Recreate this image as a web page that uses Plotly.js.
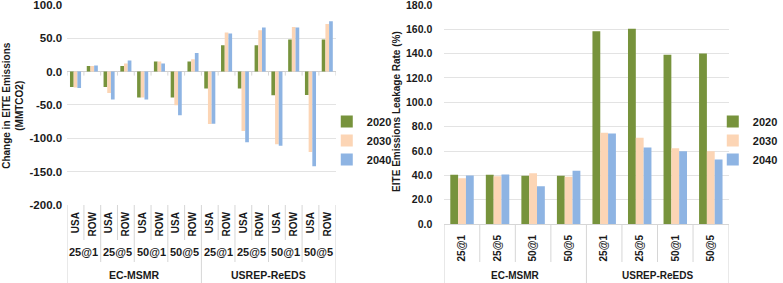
<!DOCTYPE html>
<html>
<head>
<meta charset="utf-8">
<script src="https://cdn.plot.ly/plotly-3.0.1.min.js"></script>
<style>html,body{margin:0;padding:0;background:#fff;}#chart{width:783px;height:283px;}</style>
</head>
<body>
<div id="chart"></div>
<script>
// ---- data ----
const models = ['EC-MSMR', 'USREP-ReEDS'];
const scenarios = ['25@1', '25@5', '50@1', '50@5'];
const regions = ['USA', 'ROW'];
const years = ['2020', '2030', '2040'];

// Change in EITE emissions (MMTCO2): order model > scenario > region
const emis2020 = [-23, 8.5, -23, 8.5, -39, 15, -39, 15, -25.5, 39.5, -25.5, 39.5, -35.5, 48, -35, 48];
const emis2030 = [-24, 8.5, -32, 12, -39, 15, -50.5, 18.5, -78.5, 58.5, -89, 62, -109, 67, -120.5, 71.5];
const emis2040 = [-24.5, 9, -42, 16.5, -42, 12, -65.5, 28, -78, 57, -106, 66, -111, 66, -142, 75.5];

// EITE emissions leakage rate (%): order model > scenario
const leak2020 = [40.5, 40.5, 39.6, 39.6, 158.5, 160.4, 139.1, 140.2];
const leak2030 = [37.7, 39.3, 41.8, 38.8, 74.9, 70.8, 62.3, 59.8];
const leak2040 = [39.9, 40.7, 31.1, 43.7, 74.3, 62.8, 59.8, 53.0];

const emisTickVals = [-200, -150, -100, -50, 0, 50, 100];
const emisTickText = ['-200.0', '-150.0', '-100.0', '-50.0', '0.0', '50.0', '100.0'];
const leakTickVals = [0, 20, 40, 60, 80, 100, 120, 140, 160, 180];
const leakTickText = ['0.0', '20.0', '40.0', '60.0', '80.0', '100.0', '120.0', '140.0', '160.0', '180.0'];

const leftTitle = 'Change in EITE Emissions<br>(MMTCO2)';
const rightTitle = 'EITE Emissions Leakage Rate (%)';

// ---- styling ----
const colors = ['#77933c', '#fcd5b5', '#8eb4e3'];
const FONT = 'Liberation Sans, Arial, sans-serif';
const TXT = '#1a1a1a';
const GRID = '#e3e3e3';
const SEP = '#d6d6d6';

// build category positions
const leftX = [], leftTickText = [];
models.forEach(() => scenarios.forEach(() => regions.forEach(r => { leftX.push(leftX.length); leftTickText.push(r); })));
const rightX = [], rightTickText = [];
models.forEach(() => scenarios.forEach(s => { rightX.push(rightX.length); rightTickText.push(s); }));

const emisSeries = [emis2020, emis2030, emis2040];
const leakSeries = [leak2020, leak2030, leak2040];

const traces = [];
years.forEach((y, i) => traces.push({
  type: 'bar', x: leftX, y: emisSeries[i], name: y, xaxis: 'x', yaxis: 'y',
  marker: {color: colors[i]}, legend: 'legend', hoverinfo: 'x+y'
}));
years.forEach((y, i) => traces.push({
  type: 'bar', x: rightX, y: leakSeries[i], name: y, xaxis: 'x2', yaxis: 'y2',
  marker: {color: colors[i]}, legend: 'legend2', hoverinfo: 'x+y'
}));

const W = 783, H = 283;
const px = v => v / W;
const py = v => (H - v) / H;

const shapes = [];
const annotations = [];
// left separators
for (let k = 0; k <= leftX.length; k++) {
  let bottom = k % 8 === 0 ? 283 : (k % 2 === 0 ? 262 : 240);
  shapes.push({type: 'line', xref: 'x', yref: 'paper', x0: k - 0.5, x1: k - 0.5,
    y0: py(205), y1: py(bottom), line: {color: SEP, width: 1}});
  // small ticks on the zero line
  shapes.push({type: 'line', xref: 'x', yref: 'y', ysizemode: 'pixel', yanchor: 0,
    x0: k - 0.5, x1: k - 0.5, y0: 0, y1: -4, line: {color: SEP, width: 1}});
}
// right separators
for (let k = 0; k <= rightX.length; k++) {
  let bottom = k % 4 === 0 ? 283 : 262;
  shapes.push({type: 'line', xref: 'x2', yref: 'paper', x0: k - 0.5, x1: k - 0.5,
    y0: py(224), y1: py(bottom), line: {color: SEP, width: 1}});
}
// left scenario + model labels
models.forEach((m, mi) => {
  scenarios.forEach((s, si) => {
    annotations.push({xref: 'x', yref: 'paper', x: mi * 8 + si * 2 + 0.5, y: py(252),
      text: s, showarrow: false, xanchor: 'center', yanchor: 'middle',
      font: {family: FONT, size: 11, weight: 'bold', color: TXT}});
  });
  annotations.push({xref: 'x', yref: 'paper', x: mi * 8 + 3.5, y: py(275),
    text: m, showarrow: false, xanchor: 'center', yanchor: 'middle',
    font: {family: FONT, size: 10.5, weight: 'bold', color: TXT}});
  annotations.push({xref: 'x2', yref: 'paper', x: mi * 4 + 1.5, y: py(275),
    text: m, showarrow: false, xanchor: 'center', yanchor: 'middle',
    font: {family: FONT, size: 10, weight: 'bold', color: TXT}});
});
// y titles
annotations.push({xref: 'paper', yref: 'paper', x: px(13), y: py(105), text: leftTitle,
  textangle: -90, showarrow: false, xanchor: 'center', yanchor: 'middle',
  font: {family: FONT, size: 10, weight: 'bold', color: TXT}});
annotations.push({xref: 'paper', yref: 'paper', x: px(401), y: py(111), text: rightTitle,
  textangle: -90, showarrow: false, xanchor: 'center', yanchor: 'middle',
  font: {family: FONT, size: 10, weight: 'bold', color: TXT}});

const tickFontL = {family: FONT, size: 11.5, weight: 'bold', color: TXT};
const tickFontR = {family: FONT, size: 10.5, weight: 'bold', color: TXT};

const layout = {
  width: W, height: H,
  margin: {l: 0, r: 0, t: 0, b: 0},
  paper_bgcolor: '#fff', plot_bgcolor: '#fff',
  barmode: 'group', bargap: 0.34, bargroupgap: 0,
  showlegend: true,
  font: {family: FONT, color: TXT},
  xaxis: {domain: [px(68), px(340)], anchor: 'y', range: [-0.5, 15.5],
    tickmode: 'array', tickvals: leftX, ticktext: leftTickText, tickangle: -90,
    tickfont: {family: FONT, size: 10, weight: 'bold', color: TXT},
    ticks: '', ticklabelstandoff: 4, showgrid: false, zeroline: false, showline: false},
  yaxis: {domain: [py(205), py(4.5)], anchor: 'x', range: [-200, 100.6],
    tickmode: 'array', tickvals: emisTickVals, ticktext: emisTickText,
    tickfont: tickFontL, ticks: '', ticklabelstandoff: 4, ticklabeloverflow: 'allow',
    showgrid: true, gridcolor: GRID, gridwidth: 1, zeroline: true, zerolinecolor: '#cfcfcf', zerolinewidth: 1, showline: false},
  xaxis2: {domain: [px(450), px(738)], anchor: 'y2', range: [-0.5, 7.5],
    tickmode: 'array', tickvals: rightX, ticktext: rightTickText, tickangle: -90,
    tickfont: {family: FONT, size: 10, weight: 'bold', color: TXT},
    ticks: '', ticklabelstandoff: 6, showgrid: false, zeroline: false,
    showline: true, linecolor: SEP, linewidth: 1},
  yaxis2: {domain: [py(224), py(4.5)], anchor: 'x2', range: [0, 180.4],
    tickmode: 'array', tickvals: leakTickVals, ticktext: leakTickText,
    tickfont: tickFontR, ticks: '', ticklabelstandoff: 11, ticklabeloverflow: 'allow',
    showgrid: true, gridcolor: GRID, gridwidth: 1, zeroline: false, showline: false},
  legend: {x: px(331), y: py(107), xanchor: 'left', yanchor: 'top',
    bgcolor: 'rgba(0,0,0,0)', font: {family: FONT, size: 11, weight: 'bold', color: TXT},
    tracegroupgap: 0, itemwidth: 30},
  legend2: {x: px(722), y: py(107), xanchor: 'left', yanchor: 'top',
    bgcolor: 'rgba(0,0,0,0)', font: {family: FONT, size: 11, weight: 'bold', color: TXT},
    tracegroupgap: 0, itemwidth: 30},
  shapes: shapes,
  annotations: annotations
};

Plotly.newPlot('chart', traces, layout, {displayModeBar: false, staticPlot: true});
</script>
</body>
</html>
